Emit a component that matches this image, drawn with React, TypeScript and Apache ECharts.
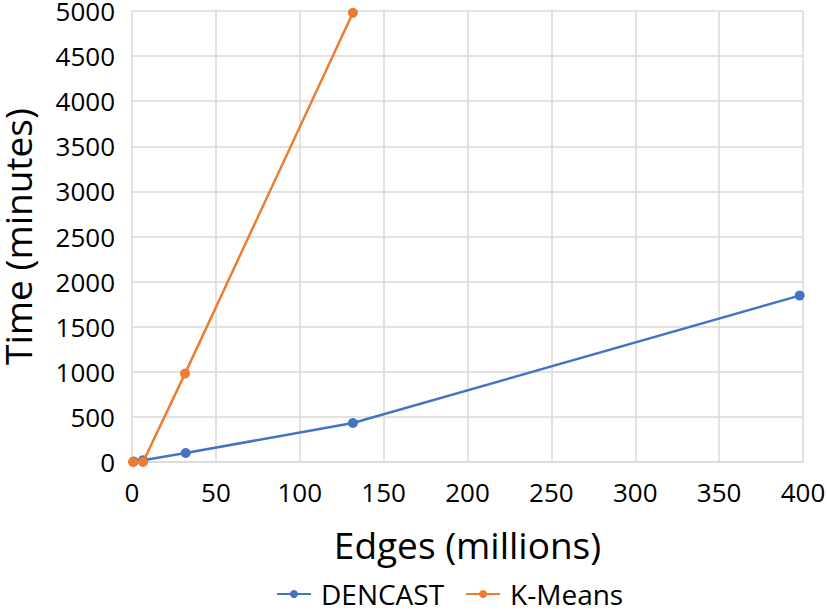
import React, { useEffect, useRef } from "react";
import * as echarts from "echarts";

const dencastX = [1, 6.6, 32, 131.7, 398];
const dencastY = [5, 20, 100, 432, 1845];
const kmeansX = [0.6, 6.6, 31.6, 131.7];
const kmeansY = [0, 0, 980, 4980];

const seriesNames = ["DENCAST", "K-Means"];
const xTitle = "Edges (millions)";
const yTitle = "Time (minutes)";

const FONT = "'Open Sans', 'Noto Sans', sans-serif";

export default function App() {
  const ref = useRef<HTMLDivElement>(null);
  useEffect(() => {
    if (!ref.current) return;
    const chart = echarts.init(ref.current, undefined, { renderer: "svg" });
    const pair = (xs: number[], ys: number[]) => xs.map((x, i) => [x, ys[i]]);
    chart.setOption({
      animation: false,
      textStyle: { fontFamily: FONT },
      grid: {
        left: 132,
        right: 24,
        top: 11,
        bottom: 151,
        containLabel: false,
        outerBoundsMode: "none",
      },
      legend: {
        bottom: 0,
        left: 271,
        itemWidth: 34,
        itemHeight: 10,
        itemGap: 21,
        textStyle: { fontSize: 28, color: "#000", fontFamily: FONT, padding: [0, 0, 0, 5] },
        data: seriesNames,
      },
      xAxis: {
        type: "value",
        min: 0,
        max: 400,
        interval: 50,
        name: xTitle,
        nameLocation: "middle",
        nameGap: 64,
        nameTextStyle: { fontSize: 37, color: "#000", fontFamily: FONT },
        axisLine: { show: true, lineStyle: { color: "#d9d9d9", width: 1.5 } },
        axisTick: { show: false },
        axisLabel: { fontSize: 26, color: "#000", margin: 17, fontFamily: FONT },
        splitLine: { show: true, lineStyle: { color: "#d9d9d9", width: 1.5 } },
      },
      yAxis: {
        type: "value",
        min: 0,
        max: 5000,
        interval: 500,
        name: yTitle,
        nameLocation: "middle",
        nameGap: 96,
        nameRotate: 90,
        nameTextStyle: { fontSize: 37, color: "#000", fontFamily: FONT },
        axisLine: { show: false },
        axisTick: { show: false },
        axisLabel: {
          fontSize: 26,
          color: "#000",
          margin: 17,
          fontFamily: FONT,
          formatter: (v: number) => String(v),
        },
        splitLine: { show: true, lineStyle: { color: "#d9d9d9", width: 1.5 } },
      },
      series: [
        {
          name: seriesNames[0],
          type: "line",
          data: pair(dencastX, dencastY),
          symbol: "circle",
          symbolSize: 10,
          itemStyle: { color: "#4472C4" },
          lineStyle: { color: "#4472C4", width: 2.5 },
          z: 2,
        },
        {
          name: seriesNames[1],
          type: "line",
          data: pair(kmeansX, kmeansY),
          symbol: "circle",
          symbolSize: 10,
          itemStyle: { color: "#ED7D31" },
          lineStyle: { color: "#ED7D31", width: 2.5 },
          z: 3,
        },
      ],
    });
    return () => chart.dispose();
  }, []);
  return <div ref={ref} style={{ width: 827, height: 613, position: "absolute", left: 0, top: 0, background: "#fff" }} />;
}
